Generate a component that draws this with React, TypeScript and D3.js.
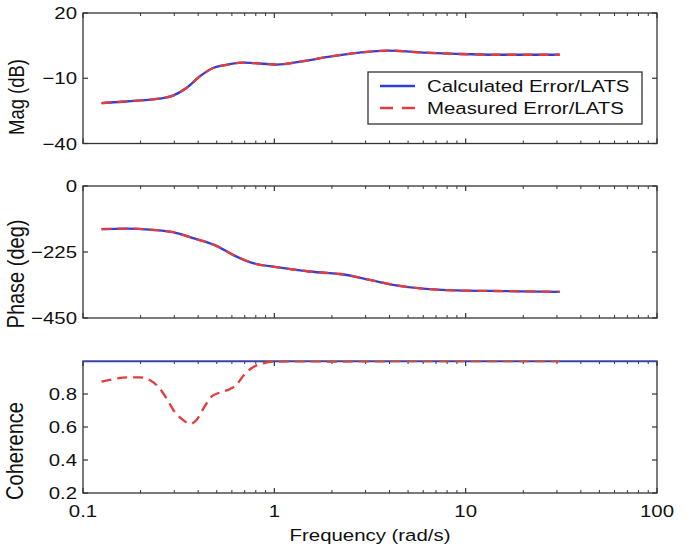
import React from "react";
import * as d3 from "d3";

// ---------- data ----------
const freqMag = [0.125, 0.16, 0.2, 0.25, 0.295, 0.347, 0.407, 0.478, 0.562, 0.673, 0.774, 1.03, 1.36, 1.87, 2.79, 3.93, 5.98, 8.95, 14.5, 31];
const magCalc = [-21.4, -20.8, -20.2, -19.4, -18.0, -14.5, -9.2, -5.3, -3.8, -2.8, -3.0, -3.7, -2.4, -0.3, 1.8, 2.7, 1.8, 1.2, 0.8, 0.8];
const magMeas = [-21.4, -20.8, -20.2, -19.4, -18.0, -14.5, -9.2, -5.3, -3.8, -2.8, -3.0, -3.7, -2.4, -0.3, 1.8, 2.7, 1.8, 1.2, 0.8, 0.8];

const freqPhase = [0.125, 0.169, 0.232, 0.295, 0.376, 0.498, 0.608, 0.774, 1.026, 1.53, 2.11, 2.2, 3.15, 4.17, 5.98, 8.95, 16.3, 31];
const phaseCalc = [-147, -145, -149.7, -157.6, -178, -204, -234.7, -263, -276.5, -291.5, -299, -300, -320, -336.7, -350, -356, -358.4, -360.6];
const phaseMeas = [-147, -145, -149.7, -157.6, -178, -204, -234.7, -263, -276.5, -291.5, -299, -300, -320, -336.7, -350, -356, -358.4, -360.6];

const freqCoh = [0.125, 0.143, 0.169, 0.198, 0.223, 0.247, 0.273, 0.301, 0.333, 0.361, 0.392, 0.424, 0.469, 0.518, 0.584, 0.633, 0.7, 0.774, 0.873, 0.984, 1.3, 2, 5, 10, 31];
const cohMeas = [0.875, 0.889, 0.901, 0.901, 0.885, 0.845, 0.774, 0.693, 0.643, 0.619, 0.643, 0.708, 0.784, 0.808, 0.829, 0.855, 0.921, 0.962, 0.986, 0.996, 0.998, 0.997, 0.999, 0.999, 0.999];
const freqCohCalc = [0.1, 100];
const cohCalc = [1, 1];

const xTickValues = [0.1, 1, 10, 100];
const xTickLabels = ["0.1", "1", "10", "100"];
const magTicks = [20, -10, -40];
const magTickLabels = ["20", "\u221210", "\u221240"];
const phaseTicks = [0, -225, -450];
const phaseTickLabels = ["0", "\u2212225", "\u2212450"];
const cohTicks = [0.2, 0.4, 0.6, 0.8];
const cohTickLabels = ["0.2", "0.4", "0.6", "0.8"];
const legendLabels = ["Calculated Error/LATS", "Measured Error/LATS"];
const xLabel = "Frequency (rad/s)";

// ---------- styling ----------
const W = 687, H = 552;
const X0 = 83, X1 = 657;
const FONT = "'Liberation Sans', Arial, Helvetica, sans-serif";
const SX = 1.2;
const BLUE = "#2f3fdc";
const RED = "#e23d3c";
const AXIS = "#333";

type TextProps = { x: number; y: number; anchor?: string; size?: number; rotate?: boolean; children: React.ReactNode };
function SText({ x, y, anchor = "start", size = 17, rotate = false, children }: TextProps) {
  const t = `translate(${x},${y}) scale(${SX},1)` + (rotate ? " rotate(-90)" : "");
  return (
    <text transform={t} textAnchor={anchor} fontSize={size} fontFamily={FONT} fill="#111">
      {children}
    </text>
  );
}

export default function App() {
  const x = d3.scaleLog().domain([0.1, 100]).range([X0, X1]);
  const minor: number[] = [];
  [0.1, 1, 10].forEach((d) => {
    for (let k = 2; k <= 9; k++) minor.push(d * k);
  });

  const panels = [
    { top: 13, bottom: 143.5, domain: [-40, 20], ticks: magTicks, labels: magTickLabels, ylabel: "Mag (dB)", lx: 24, ly: 97, lsize: 18.5,
      series: [{ f: freqMag, v: magCalc, c: BLUE, dash: undefined }, { f: freqMag, v: magMeas, c: RED, dash: "10,6" }] },
    { top: 186, bottom: 318, domain: [-450, 0], ticks: phaseTicks, labels: phaseTickLabels, ylabel: "Phase (deg)", lx: 24, ly: 274, lsize: 20,
      series: [{ f: freqPhase, v: phaseCalc, c: BLUE, dash: undefined }, { f: freqPhase, v: phaseMeas, c: RED, dash: "10,6" }] },
    { top: 361, bottom: 493, domain: [0.2, 1.0], ticks: cohTicks, labels: cohTickLabels, ylabel: "Coherence", lx: 23, ly: 451, lsize: 20,
      series: [{ f: freqCohCalc, v: cohCalc, c: BLUE, dash: undefined }, { f: freqCoh, v: cohMeas, c: RED, dash: "10,6" }] },
  ];

  return (
    <svg width={W} height={H} style={{ position: "absolute", left: 0, top: 0, background: "#fff" }}>
      <defs>
        {panels.map((p, i) => (
          <clipPath key={i} id={"clip" + i}>
            <rect x={X0} y={p.top} width={X1 - X0} height={p.bottom - p.top} />
          </clipPath>
        ))}
      </defs>
      <rect x={0} y={0} width={W} height={H} fill="#fff" />
      {panels.map((p, i) => {
        const y = d3.scaleLinear().domain(p.domain).range([p.bottom, p.top]);
        const line = d3
          .line<[number, number]>()
          .x((d) => x(d[0]))
          .y((d) => y(d[1]))
          .curve(d3.curveMonotoneX);
        return (
          <g key={i}>
            <rect x={X0} y={p.top} width={X1 - X0} height={p.bottom - p.top} fill="none" stroke={AXIS} strokeWidth={1.3} />
            {xTickValues.map((t) => (
              <g key={"M" + t}>
                <line x1={x(t)} x2={x(t)} y1={p.top} y2={p.top + 5} stroke={AXIS} strokeWidth={1.2} />
                <line x1={x(t)} x2={x(t)} y1={p.bottom} y2={p.bottom - 5} stroke={AXIS} strokeWidth={1.2} />
              </g>
            ))}
            {minor.map((t) => (
              <g key={"m" + t}>
                <line x1={x(t)} x2={x(t)} y1={p.top} y2={p.top + 3} stroke={AXIS} strokeWidth={1} />
                <line x1={x(t)} x2={x(t)} y1={p.bottom} y2={p.bottom - 3} stroke={AXIS} strokeWidth={1} />
              </g>
            ))}
            {p.ticks.map((t, j) => (
              <g key={"y" + t}>
                <line x1={X0} x2={X0 + 5} y1={y(t)} y2={y(t)} stroke={AXIS} strokeWidth={1.2} />
                <line x1={X1} x2={X1 - 5} y1={y(t)} y2={y(t)} stroke={AXIS} strokeWidth={1.2} />
                <SText x={X0 - 6} y={y(t) + 6} anchor="end">{p.labels[j]}</SText>
              </g>
            ))}
            <g clipPath={`url(#clip${i})`}>
              {p.series.map((s, k) => (
                <path
                  key={k}
                  d={line(s.f.map((f, idx) => [f, s.v[idx]] as [number, number])) || ""}
                  fill="none"
                  stroke={s.c}
                  strokeWidth={2.3}
                  strokeDasharray={s.dash}
                />
              ))}
            </g>
            <SText x={p.lx} y={p.ly} anchor="middle" size={p.lsize} rotate>
              {p.ylabel}
            </SText>
          </g>
        );
      })}
      {xTickValues.map((t, j) => (
        <SText key={"xl" + t} x={x(t)} y={517} anchor="middle">{xTickLabels[j]}</SText>
      ))}
      <SText x={(X0 + X1) / 2} y={541} anchor="middle">{xLabel}</SText>
      <g>
        <rect x={368} y={72} width={274} height={52} fill="#fff" stroke={AXIS} strokeWidth={1.3} />
        <line x1={380} x2={415} y1={86} y2={86} stroke={BLUE} strokeWidth={2.3} />
        <line x1={380} x2={415} y1={108} y2={108} stroke={RED} strokeWidth={2.3} strokeDasharray="13,9" />
        <SText x={427} y={92}>{legendLabels[0]}</SText>
        <SText x={427} y={114}>{legendLabels[1]}</SText>
      </g>
    </svg>
  );
}
